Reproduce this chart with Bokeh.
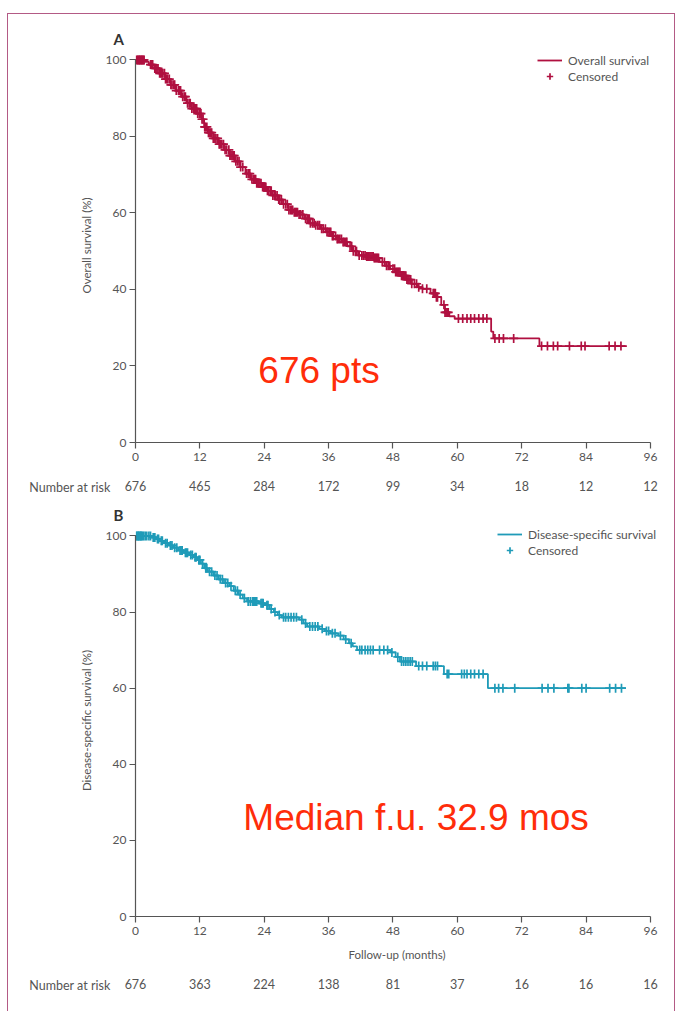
from bokeh.plotting import figure
from bokeh.layouts import column
from bokeh.models import Range1d, FixedTicker, Label, Legend, LegendItem, ColumnDataSource
from bokeh.embed import file_html
from bokeh.resources import INLINE
import numpy as np

# ---------------- data ----------------
month_ticks = [0, 12, 24, 36, 48, 60, 72, 84, 96]
os_at_risk = [676, 465, 284, 172, 99, 34, 18, 12, 12]
dss_at_risk = [676, 363, 224, 138, 81, 37, 16, 16, 16]

# Overall survival: step times (months) and survival (%) after each step
os_time = [0, 1.8, 2.5, 3.5, 4.5, 5.5, 6.5, 7.5, 8.5, 9.5, 10.5, 11.5, 12.3, 12.8,
           13.5, 14.5, 15.5, 16.5, 17.5, 18.5, 19.5, 20.5, 21.5, 22.5, 23.5, 24.5,
           25.5, 26.5, 27.5, 28.5, 29.5, 30.5, 31.5, 32.5, 33.5, 34.5, 35.5, 36.5,
           37.5, 38.5, 39.5, 40.5, 41.5, 43.0, 44.5, 45.5, 46.5, 47.5, 48.5, 49.5,
           50.5, 51.5, 52.5, 53.5, 55.0, 56.0, 57.0, 57.7, 58.5, 59.5, 66.3, 66.7, 75.3]
os_surv = [100, 99.5, 98.8, 97.8, 96.5, 95.0, 93.5, 92.0, 90.4, 88.7, 87.3, 86.0, 84.5, 82.5,
           81.0, 79.5, 78.0, 76.5, 75.0, 73.5, 72.0, 70.3, 68.8, 67.8, 66.8, 65.8,
           64.6, 63.5, 62.3, 60.8, 60.2, 59.6, 58.5, 57.3, 56.8, 55.9, 55.0, 54.0,
           53.2, 52.4, 51.3, 50.0, 48.9, 48.6, 48.2, 47.2, 46.2, 45.4, 44.6, 43.6,
           42.6, 41.5, 40.6, 40.2, 39.0, 38.0, 36.0, 34.0, 33.0, 32.4, 29.0, 27.2, 25.2]
os_end = 91.6
os_censored = [0.2, 0.4, 0.5, 0.7, 0.8, 0.9, 1.1, 1.2, 1.3, 1.5, 1.6, 2.8, 3.0, 3.2, 3.6,
               3.8, 4.0, 4.2, 4.5, 4.7, 4.9, 5.1, 5.4, 5.6, 5.8, 6.0, 6.3, 6.6, 6.8, 7.1,
               7.3, 7.6, 8.0, 8.2, 8.4, 8.8, 9.1, 9.3, 9.7, 10.0, 10.2, 10.5, 10.8, 11.0,
               11.2, 11.4, 11.6, 11.9, 12.0, 12.2, 12.4, 12.6, 12.9, 13.0, 13.3, 13.6,
               13.8, 14.0, 14.2, 14.5, 14.8, 15.0, 15.3, 15.6, 15.8, 16.1, 16.4, 16.7,
               17.0, 17.4, 17.6, 17.8, 18.0, 18.2, 18.4, 18.7, 19.0, 19.3, 19.6, 20.0,
               20.7, 21.0, 21.3, 21.7, 22.0, 22.2, 22.4, 22.6, 22.8, 23.0, 23.2, 23.4,
               23.7, 23.9, 24.1, 24.3, 24.6, 24.8, 25.1, 25.3, 25.6, 25.9, 26.1, 26.4,
               26.7, 26.9, 27.2, 27.6, 28.0, 28.3, 28.6, 28.9, 29.1, 29.3, 29.6, 29.8,
               30.0, 30.2, 30.5, 30.8, 31.2, 31.7, 32.0, 32.2, 32.4, 32.6, 33.0, 33.3,
               33.6, 34.0, 34.3, 34.7, 35.0, 35.4, 35.7, 35.9, 36.2, 36.4, 36.7, 36.9,
               37.3, 37.6, 37.8, 38.1, 38.4, 38.7, 38.9, 39.2, 39.4, 40.0, 40.3, 40.6,
               41.0, 41.2, 41.7, 42.2, 42.5, 42.8, 43.1, 43.3, 43.5, 43.7, 43.9, 44.1,
               44.3, 44.5, 44.7, 44.9, 45.1, 45.3, 46.0, 46.4, 46.8, 47.1, 47.4, 48.0,
               48.3, 48.5, 48.7, 48.9, 49.1, 49.3, 49.6, 49.8, 50.0, 50.2, 50.4, 50.6,
               50.8, 51.0, 51.3, 51.5, 52.0, 52.4, 52.8, 53.5, 54.3, 55.5, 55.7, 55.9,
               56.1, 56.3, 57.5, 57.7, 57.9, 58.1, 58.3, 60.2, 61.0, 61.8, 62.5, 63.2,
               64.0, 64.8, 65.5, 67.0, 67.8, 68.6, 70.5, 75.7, 76.8, 77.9, 78.7, 80.9,
               83.1, 83.8, 88.3, 89.4, 90.5]

# Disease-specific survival
dss_time = [0, 3.0, 3.8, 4.5, 5.3, 6.2, 7.0, 8.0, 9.0, 10.0, 10.8, 11.5, 12.2, 12.8,
            13.5, 14.5, 15.5, 16.5, 17.5, 18.3, 19.2, 20.0, 20.8, 23.0, 24.2, 25.0,
            25.8, 26.5, 27.2, 30.5, 31.3, 32.0, 34.3, 35.3, 36.3, 37.8, 38.8, 39.8,
            40.5, 41.3, 47.5, 48.5, 49.3, 52.3, 57.5, 65.7]
dss_surv = [100, 99.6, 99.2, 98.7, 98.1, 97.5, 96.9, 96.2, 95.6, 95.0, 94.4, 93.7, 92.7, 91.5,
            90.6, 89.6, 88.6, 87.6, 86.8, 85.6, 84.6, 83.6, 82.8, 82.3, 81.8, 80.8,
            80.0, 79.2, 78.6, 78.0, 77.0, 76.2, 75.6, 75.0, 74.4, 73.8, 72.8, 71.8,
            71.0, 70.0, 69.4, 68.2, 67.0, 65.8, 63.7, 60.0]
dss_end = 91.4
dss_censored = [0.2, 0.3, 0.5, 0.6, 0.7, 0.9, 1.0, 1.1, 1.3, 1.5, 1.8, 2.1, 2.5, 2.8, 3.3,
                3.5, 3.6, 4.1, 4.3, 4.8, 5.0, 5.6, 5.9, 6.5, 6.8, 7.3, 7.7, 8.3, 8.5, 8.7,
                9.3, 9.5, 9.7, 10.3, 10.6, 11.1, 11.3, 11.8, 12.0, 12.5, 13.1, 13.3, 13.8,
                14.2, 14.8, 15.2, 15.8, 16.2, 16.8, 17.2, 17.8, 18.6, 19.0, 19.5, 20.3,
                21.0, 21.4, 21.8, 22.0, 22.2, 22.4, 22.6, 23.4, 23.6, 23.8, 24.5, 24.7,
                25.3, 26.0, 26.8, 27.6, 28.0, 28.5, 29.0, 29.5, 30.0, 31.0, 31.7, 32.5,
                33.0, 33.5, 34.0, 34.8, 35.6, 36.0, 36.7, 37.2, 38.2, 39.2, 40.2, 41.8,
                42.2, 42.8, 43.3, 43.8, 44.3, 45.5, 46.3, 47.0, 47.8, 48.9, 49.6, 50.0,
                50.4, 50.8, 51.2, 51.6, 52.8, 53.5, 54.3, 55.5, 55.9, 56.3, 58.1, 58.4,
                60.8, 61.3, 61.8, 62.5, 63.2, 64.0, 64.8, 67.0, 67.7, 68.5, 70.7, 75.8,
                76.9, 78.0, 80.6, 80.8, 83.2, 84.0, 88.4, 89.5, 90.6]

# ---------------- styling / layout ----------------
FONT = "Lato"
AX = "#555555"
TXT = "#555555"
BORDER = "#b35a85"
OS_COLOR = "#b01040"
DSS_COLOR = "#1f9bb8"
RED = "#ff2d0a"

FIG_W = 666
ML = 127          # left border of the plotting frame
MR = 16
X_END = 97.5
Y_END = 103


def make_panel(letter, times, surv, end, censored, color, ylabel, legend_label,
               height, top, bottom, xlabel, legend_xy, annot, annot_xy):
    p = figure(width=FIG_W, height=height, output_backend="svg",
               toolbar_location=None, x_range=Range1d(0, X_END),
               y_range=Range1d(0, Y_END),
               min_border_left=ML, min_border_right=MR,
               min_border_top=top, min_border_bottom=bottom)
    p.outline_line_color = None
    p.grid.visible = False
    p.background_fill_color = "white"
    p.border_fill_color = "white"

    p.title.text = letter
    p.title.align = "left"
    p.title.offset = -22
    p.title.standoff = 2
    p.title.text_font = FONT
    p.title.text_font_size = "15px"
    p.title.text_font_style = "bold"
    p.title.text_color = "#333333"

    xs = list(times) + [end]
    ys = list(surv) + [surv[-1]]
    src = ColumnDataSource(dict(x=xs, y=ys))
    line = p.step("x", "y", source=src, mode="after", line_color=color,
                  line_width=1.8)

    t_arr = np.asarray(times)
    s_arr = np.asarray(surv)
    c = np.asarray(censored)
    idx = np.searchsorted(t_arr, c, side="right") - 1
    csrc = ColumnDataSource(dict(x=c, y=s_arr[idx]))
    marks = p.scatter("x", "y", source=csrc, marker="cross", size=9,
                      line_color=color, line_width=1.7)

    for ax in (p.xaxis[0], p.yaxis[0]):
        ax.axis_line_color = AX
        ax.axis_line_width = 1.2
        ax.major_tick_line_color = AX
        ax.major_tick_line_width = 1.2
        ax.major_tick_out = 6
        ax.major_tick_in = 0
        ax.minor_tick_line_color = None
        ax.major_label_text_font = FONT
        ax.major_label_text_font_size = "12px"
        ax.major_label_text_color = TXT
        ax.axis_label_text_font = FONT
        ax.axis_label_text_font_size = "11.5px"
        ax.axis_label_text_font_style = "normal"
        ax.axis_label_text_color = TXT

    p.xaxis.ticker = FixedTicker(ticks=month_ticks)
    p.xaxis.bounds = (0, 96)
    p.xaxis.major_label_standoff = 4
    p.yaxis.ticker = FixedTicker(ticks=[0, 20, 40, 60, 80, 100])
    p.yaxis.bounds = (0, 100)
    p.yaxis.major_label_standoff = 3
    p.yaxis.axis_label = ylabel
    p.yaxis.axis_label_standoff = 10
    if xlabel:
        p.xaxis.axis_label = xlabel
        p.xaxis.axis_label_standoff = 10

    legend = Legend(items=[LegendItem(label=legend_label, renderers=[line]),
                           LegendItem(label="Censored", renderers=[marks])],
                    location=legend_xy)
    legend.border_line_color = None
    legend.background_fill_alpha = 0
    legend.padding = 0
    legend.margin = 0
    legend.spacing = 0
    legend.glyph_width = 25
    legend.glyph_height = 16
    legend.label_height = 16
    legend.label_standoff = 6
    legend.label_text_font = FONT
    legend.label_text_font_size = "12px"
    legend.label_text_color = TXT
    p.add_layout(legend)

    p.add_layout(Label(x=annot_xy[0], y=annot_xy[1], text=annot,
                       text_font="Liberation Sans", text_font_size="37px",
                       text_color=RED, text_align="left",
                       text_baseline="alphabetic"))
    return p


def risk_row(at_risk, height, top):
    # frame is 1px tall; its bottom edge is the text line of the row
    r = figure(width=FIG_W, height=height, output_backend="svg",
               toolbar_location=None, x_range=Range1d(0, X_END),
               y_range=Range1d(0, 1), min_border_left=ML, min_border_right=MR,
               min_border_top=top, min_border_bottom=height - top - 1)
    r.outline_line_color = None
    r.grid.visible = False
    r.background_fill_color = "white"
    r.border_fill_color = "white"

    xa = r.xaxis[0]
    xa.ticker = FixedTicker(ticks=month_ticks)
    xa.major_label_overrides = {m: str(n) for m, n in zip(month_ticks, at_risk)}
    xa.major_label_standoff = -7

    ya = r.yaxis[0]
    ya.ticker = FixedTicker(ticks=[0])
    ya.major_label_overrides = {0: "Number at risk"}
    ya.major_label_standoff = 25

    for ax in (xa, ya):
        ax.axis_line_color = None
        ax.major_tick_line_color = None
        ax.minor_tick_line_color = None
        ax.major_tick_out = 0
        ax.major_tick_in = 0
        ax.major_label_text_font = FONT
        ax.major_label_text_font_size = "12.5px"
        ax.major_label_text_color = TXT
    return r


pA = make_panel("A", os_time, os_surv, os_end, os_censored, OS_COLOR,
                "Overall survival (%)", "Overall survival", 458, 34, 30, None,
                (402, 358), "676 pts", (22.9, 18.8))
rA = risk_row(os_at_risk, 30, 14)
pB = make_panel("B", dss_time, dss_surv, dss_end, dss_censored, DSS_COLOR,
                "Disease-specific survival (%)", "Disease-specific survival", 464, 20, 50,
                "Follow-up (months)", (362, 358), "Median f.u. 32.9 mos", (20.1, 26.1))
rB = risk_row(dss_at_risk, 45, 18)

layout = column(pA, rA, pB, rB, spacing=0, margin=(13, 0, 0, 7),
                styles={"border-top": "1.5px solid " + BORDER,
                        "border-left": "1.5px solid " + BORDER,
                        "border-right": "1.5px solid " + BORDER})
open("out.html", "w").write(file_html(layout, INLINE))
